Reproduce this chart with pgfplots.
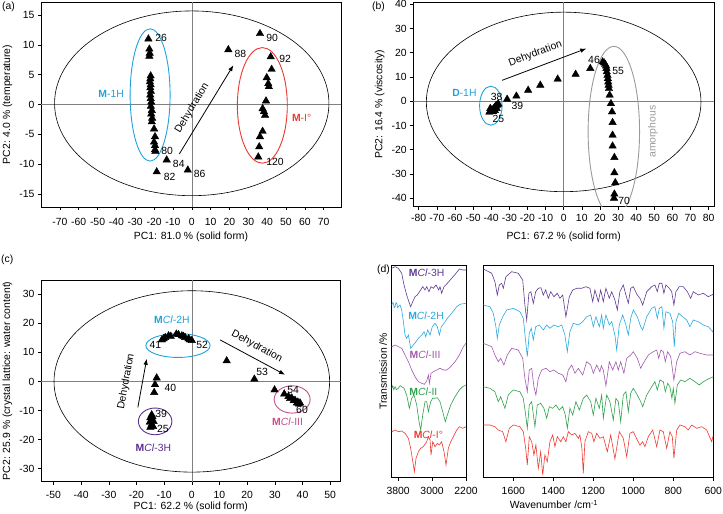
\documentclass[border=0pt]{standalone}
\usepackage{fontspec}
\setmainfont{Liberation Sans}
\usepackage{pgfplots}
\pgfplotsset{compat=1.18}
\usetikzlibrary{arrows.meta}
\definecolor{cblue}{HTML}{1FA2DC}
\definecolor{cred}{HTML}{E8392F}
\definecolor{cgray}{HTML}{9A9A9A}
\definecolor{cpur}{HTML}{5B2D8E}
\definecolor{cpink}{HTML}{C4508A}
\definecolor{sp3h}{HTML}{5E3A92}
\definecolor{sp2h}{HTML}{27AAE1}
\definecolor{spiii}{HTML}{A05AAE}
\definecolor{spii}{HTML}{2DA04A}
\definecolor{spi}{HTML}{EE3B32}
\newcommand\fs{\fontsize{10.4}{12.5}\selectfont}
\pgfplotsset{
  base/.style={scale only axis, anchor=south west, axis line style={line width=0.6pt},
    tick align=outside, xtick pos=left, ytick pos=left, major tick length=3pt,
    tick style={line width=0.5pt, black},
    /pgf/number format/assume math mode=true, /pgf/number format/1000 sep={},
    every tick label/.append style={font=\fs}, label style={font=\fs}},
  tri/.style={only marks, mark=triangle*, mark size=4.3pt, black},
  spec/.style={line width=0.6pt, no marks},
}
\tikzset{arr/.style={-{Latex[length=6pt,width=4.5pt]}, line width=0.8pt}}
\begin{document}
\fs
\begin{tikzpicture}
\path[use as bounding box] (0pt,0pt) rectangle (723pt,514pt);
% ---------------- (a)
\begin{axis}[base, at={(41pt,307pt)}, width=300pt, height=205pt,
  xmin=-80, xmax=79.2, ymin=-17.2, ymax=17.2,
  xtick={-70,-60,...,70}, ytick={-15,-10,...,15},
  xticklabel style={yshift=-4.5pt}, xlabel style={yshift=0.5pt},
  xlabel={PC1: 81.0 \% (solid form)}, ylabel={PC2: 4.0 \% (temperature)}]
\draw[gray, line width=0.5pt] (axis cs:-80,0) -- (axis cs:80,0);
\draw[gray, line width=0.5pt] (axis cs:0,-17.2) -- (axis cs:0,17.2);
\draw[line width=0.6pt] (axis cs:0,0.2) ellipse [x radius=72.8, y radius=15.5];
\draw[cblue, line width=0.9pt] (axis cs:-22.1,1.6) ellipse [x radius=10.6, y radius=11.1];
\draw[cred, line width=0.9pt] (axis cs:37.45,-0.15) ellipse [x radius=13.25, y radius=9.7];
\addplot[tri] coordinates {(-23,11) (-22.5,9.3) (-22.3,8.6) (-22.5,8.1) (-21.8,4.8) (-22,4.3)
 (-22.2,3.8) (-21.8,3.3) (-22,2.8) (-21.7,2.2) (-22,1.6) (-21.8,1.0) (-21.5,0.4) (-21.7,-0.3)
 (-21.2,-1.0) (-21.5,-1.6) (-21,-2.3) (-21.2,-2.9) (-20,-4.1) (-19.5,-5.4) (-20,-6.3)
 (-19.5,-6.9) (-19.5,-7.6) (-19.3,-7.9) (-18.6,-11.3) (-13.3,-9.3) (-2.1,-11.0) (19.4,9.2)
 (36.2,11.9) (41.9,8.0) (42.4,5.9) (39.8,4.5) (40.6,3.5) (40.9,3.0) (39.4,0.6) (37.6,-0.7)
 (38.3,-1.2) (38.9,-1.8) (37.6,-4.5) (36.2,-5.4) (35.8,-7.1) (35.3,-8.8)};
\node[anchor=west, inner sep=1pt] at (axis cs:-20,11.1) {26};
\node[anchor=west, inner sep=1pt] at (axis cs:-16.8,-7.8) {80};
\node[anchor=west, inner sep=1pt] at (axis cs:-15.4,-12.1) {82};
\node[anchor=west, inner sep=1pt] at (axis cs:-10.6,-10.0) {84};
\node[anchor=west, inner sep=1pt] at (axis cs:0.5,-11.7) {86};
\node[anchor=west, inner sep=1pt] at (axis cs:22.1,8.5) {88};
\node[anchor=west, inner sep=1pt] at (axis cs:38.9,11.1) {90};
\node[anchor=west, inner sep=1pt] at (axis cs:45.9,7.7) {92};
\node[anchor=west, inner sep=1pt] at (axis cs:38.9,-9.6) {120};
\draw[arr] (axis cs:-6.6,-8.3) -- (axis cs:22.1,6.6);
\node[rotate=58.8] at (axis cs:0.2,-0.6) {Dehydration};
\node[text=cblue] at (axis cs:-42.8,1.8) {\textbf{M}-1H};
\node[text=cred] at (axis cs:58.3,-2.3) {\textbf{M}-I°};
\end{axis}
\node[anchor=west, inner sep=0pt] at (2pt,507pt) {(a)};
% ---------------- (b)
\begin{axis}[base, at={(413.3pt,307.3pt)}, width=300.7pt, height=204.7pt,
  xmin=-83, xmax=83, ymin=-43.5, ymax=40.9,
  xtick={-80,-70,...,80}, ytick={-40,-30,...,40},
  xticklabel style={yshift=-1pt}, xlabel style={yshift=-3pt},
  xlabel={PC1: 67.2 \% (solid form)}, ylabel={PC2: 16.4 \% (viscosity)}]
\draw[gray, line width=0.5pt] (axis cs:-83,0) -- (axis cs:83,0);
\draw[gray, line width=0.5pt] (axis cs:0,-43.5) -- (axis cs:0,41);
\draw[line width=0.6pt] (axis cs:0,-0.3) ellipse [x radius=75.8, y radius=37];
\draw[cblue, line width=0.9pt] (axis cs:-40.2,-1.85) ellipse [x radius=6.2, y radius=8.05];
\draw[cgray, line width=0.9pt] (axis cs:27.7,-12.5) ellipse [x radius=14.2, y radius=35.1];
\addplot[tri] coordinates {(-41,-4.5) (-40,-4) (-39.5,-3.5) (-39,-4.3) (-38.5,-3) (-38,-2.5)
 (-37.5,-2) (-37,-1.8) (-36.5,-1.5) (-36,-1.2) (-38,-3.8) (-40.5,-3) (-37,-3)
 (-31.2,0.8) (-26.1,2.1) (-19.6,4.5) (-12.9,6.6) (-3.3,9.1) (6.6,11.1) (14.7,13.5)
 (21.5,16.2) (22.3,15.8) (22.9,15.2) (23.4,14.5) (23.6,13.5) (23.8,12.1) (24.2,10.7)
 (24.4,9.3) (24.6,7.9) (24.8,6.6) (25.0,5.2) (25.4,2.5) (26.1,-1.0) (26.7,-4.4) (27.0,-8.8)
 (27.0,-14.0) (27.0,-18.5) (28.0,-23.2) (28.0,-29.5) (28.5,-33.6) (28.0,-38.3) (27.8,-40.0)};
\node[anchor=west, inner sep=1pt] at (axis cs:-40.8,1.8) {38};
\node[anchor=west, inner sep=1pt] at (axis cs:-29.4,-2.1) {39};
\node[anchor=west, inner sep=1pt] at (axis cs:-39.9,-7.5) {25};
\node[anchor=west, inner sep=1pt] at (axis cs:12.9,17.2) {46};
\node[anchor=west, inner sep=1pt] at (axis cs:26.2,12.5) {55};
\node[anchor=west, inner sep=1pt] at (axis cs:29.5,-41.2) {70};
\draw[arr] (axis cs:-34,8.6) -- (axis cs:12.5,21.7);
\node[rotate=20.6] at (axis cs:-15.6,19.4) {Dehydration};
\node[text=cblue] at (axis cs:-54.8,3.4) {\textbf{D}-1H};
\node[text=cgray, rotate=90] at (axis cs:49.3,-12.6) {amorphous};
\end{axis}
\node[anchor=west, inner sep=0pt] at (372pt,507pt) {(b)};
% ---------------- (c)
\begin{axis}[base, at={(41pt,32.3pt)}, width=299.7pt, height=201.7pt,
  xmin=-54.5, xmax=53.8, ymin=-34.5, ymax=34.9,
  xtick={-50,-40,...,50}, ytick={-30,-20,...,30},
  xticklabel style={yshift=-3pt}, xlabel style={yshift=4pt},
  xlabel={PC1: 62.2 \% (solid form)}, ylabel={PC2: 25.9 \% (crystal lattice: water content)}]
\draw[gray, line width=0.5pt] (axis cs:-55,0) -- (axis cs:54,0);
\draw[gray, line width=0.5pt] (axis cs:0,-34.5) -- (axis cs:0,35);
\draw[line width=0.6pt] (axis cs:0,0) ellipse [x radius=49.8, y radius=31.2];
\draw[cblue, line width=0.9pt] (axis cs:-5.0,12.35) ellipse [x radius=11.6, y radius=4.1];
\draw[cpur, line width=0.9pt] (axis cs:-13.25,-13.75) ellipse [x radius=6.05, y radius=4.6];
\draw[cpink, line width=0.9pt] (axis cs:36.25,-6.2) ellipse [x radius=6.5, y radius=4.7];
\addplot[tri] coordinates {(-14.5,-11.5) (-15,-12.5) (-14.5,-13.2) (-15.2,-14) (-14.5,-14.8)
 (-14,-15.5) (-15,-15.8) (-14.2,-12.2) (-13.8,-13.8)
 (-12.7,1.2) (-13.3,-1.1) (-13.6,-3.8)
 (-10.8,14.3) (-10.2,14.7) (-9.6,15.1) (-8.4,15.7) (-7.6,15.5) (-5.6,16.3) (-4.8,16.1)
 (-3.6,15.7) (-3.0,15.5) (-2.4,15.1) (-1.2,14.7) (-0.8,14.3) (0,14.1)
 (12.6,7.1) (22.6,0.8) (29.9,-2.9)
 (33.4,-4.3) (34.9,-5.2) (36.1,-5.7) (37.3,-6.5) (38.3,-7.1) (39.1,-7.4) (35.5,-5.9)
 (36.8,-6.6) (38.0,-7.4) (38.7,-7.8)};
\node[anchor=west, inner sep=1pt] at (axis cs:-13.6,-11.2) {39};
\node[anchor=west, inner sep=1pt] at (axis cs:-13,-16.4) {25};
\node[anchor=west, inner sep=1pt] at (axis cs:-10.3,-2.1) {40};
\node[anchor=west, inner sep=1pt] at (axis cs:-15.7,12.4) {41};
\node[anchor=west, inner sep=1pt] at (axis cs:1.2,12.4) {52};
\node[anchor=west, inner sep=1pt] at (axis cs:22.9,3.4) {53};
\node[anchor=west, inner sep=1pt] at (axis cs:34.1,-2.9) {54};
\node[anchor=west, inner sep=1pt] at (axis cs:37.3,-9.7) {60};
\draw[arr] (axis cs:10.2,14.3) -- (axis cs:33.7,2.3);
\node[rotate=-28.3] at (axis cs:23.5,12.0) {Dehydration};
\draw[arr] (axis cs:-19.5,-8.9) -- (axis cs:-16.3,7.8);
\node[rotate=79.5] at (axis cs:-23.7,0) {Dehydration};
\node[text=cblue] at (axis cs:-7.2,21.2) {\textbf{M}\textit{Cl}-2H};
\node[text=cpur] at (axis cs:-13.9,-22.7) {\textbf{M}\textit{Cl}-3H};
\node[text=cpink] at (axis cs:34.6,-13.8) {\textbf{M}\textit{Cl}-III};
\end{axis}
\node[anchor=west, inner sep=0pt] at (1pt,254pt) {(c)};
% ---------------- (d) left
\begin{axis}[base, at={(391.7pt,36.3pt)}, width=74.3pt, height=212.7pt,
  xmin=2200, xmax=3950, x dir=reverse, ymin=0, ymax=212.7,
  xtick={3800,3000,2200}, ytick=\empty, xticklabel style={yshift=-3pt},
  ylabel={Transmission /\%}, ylabel style={yshift=-2pt}]
\addplot[spec, sp3h] coordinates {(3950,209.4) (3871,211) (3793,209.4) (3714,204.4) (3660,192.7)
 (3597,182.7) (3534,174.4) (3503,171) (3455,176) (3400,181) (3346,182.7) (3283,186.7) (3220,191)
 (3165,187.7) (3126,191) (3071,186) (3024,191) (2969,189.4) (2906,192.7) (2843,187.7) (2812,191)
 (2773,184.4) (2718,191) (2639,194.4) (2537,199.4) (2435,204.4) (2356,208.7) (2278,207.7) (2200,207.7)};
\addplot[spec, sp2h] coordinates {(3950,172.7) (3930,175) (3911,174.4) (3890,170) (3871,171) (3850,175) (3832,174.4)
 (3810,170) (3793,171) (3754,172.7) (3714,167.7) (3675,156) (3636,142.7) (3597,139.4) (3557,142.7)
 (3503,129.4) (3440,132.7) (3377,136) (3322,139.4) (3243,142.7) (3188,146) (3149,141) (3102,147.7)
 (3047,142.7) (2993,151) (2930,154.4) (2875,151) (2828,142.7) (2780,151) (2718,154.4) (2639,159.4)
 (2537,164.4) (2419,171) (2341,173.4) (2200,174.4)};
\addplot[spec, spiii] coordinates {(3950,131) (3871,132.7) (3793,131) (3714,129.4) (3636,122.7)
 (3557,116) (3479,107.7) (3400,101) (3322,96) (3243,94.4) (3181,93.4) (3126,96.7) (3086,102.7)
 (3063,94.4) (3024,104.4) (2969,106) (2890,107.7) (2812,109.4) (2733,107.7) (2655,107.7)
 (2560,111) (2458,116) (2356,122.7) (2262,131) (2200,134.4)};
\addplot[spec, spii] coordinates {(3950,89.4) (3925,92) (3900,88) (3871,91) (3840,88) (3793,89.4) (3750,92) (3714,91)
 (3660,89.4) (3597,82.7) (3534,69.4) (3479,79.4) (3424,82.7) (3361,72.7) (3306,56) (3267,47.7)
 (3220,62.7) (3165,76) (3126,76) (3086,66) (3032,76) (2984,79.4) (2930,79.4) (2875,80) (2812,76)
 (2749,66) (2687,56) (2639,62.7) (2560,72.7) (2458,81) (2356,87.7) (2278,91) (2200,92.7)};
\addplot[spec, spi] coordinates {(3950,46) (3871,47.7) (3793,46) (3714,46.7) (3636,44.4)
 (3557,39.4) (3503,29.4) (3440,12.7) (3416,6) (3377,19.4) (3322,26) (3267,29.4) (3204,31)
 (3126,36) (3086,41) (3047,37.7) (3024,22.7) (2984,36) (2930,31) (2875,34.4) (2828,32.7)
 (2773,36) (2718,26) (2671,12.7) (2616,29.4) (2560,36) (2498,41) (2419,47.7) (2356,51)
 (2278,49.4) (2200,51)};
\node[text=sp3h] at (axis cs:3126,205.4) {\textbf{M}\textit{Cl}-3H};
\node[text=sp2h] at (axis cs:3141,162) {\textbf{M}\textit{Cl}-2H};
\node[text=spiii] at (axis cs:3165,122.7) {\textbf{M}\textit{Cl}-III};
\node[text=spii] at (axis cs:3204,86) {\textbf{M}\textit{Cl}-II};
\node[text=spi] at (axis cs:3086,42.7) {\textbf{M}\textit{Cl}-I°};
\end{axis}
\node[anchor=east, inner sep=0pt] at (390pt,244pt) {(d)};
% ---------------- (d) right
\begin{axis}[base, at={(483.3pt,36.3pt)}, width=230pt, height=212.7pt,
  xmin=600, xmax=1750, x dir=reverse, ymin=0, ymax=212.7,
  xtick={600,800,...,1600}, ytick=\empty, xticklabel style={yshift=-3pt}]
\addplot[spec, sp3h] coordinates {(1750,208.7) (1708,204.4) (1692,196) (1680,182.7) (1670,192.7)
 (1658,194.4) (1650,189.4) (1637,201) (1608,206) (1575,204.4) (1553,197.7) (1542,172.7)
 (1533,157.7) (1522,184.4) (1512,186) (1500,174.4) (1488,186) (1475,189.4) (1462,190)
 (1450,182.7) (1438,187.7) (1425,179.4) (1413,186) (1397,181) (1380,184.4) (1367,179.4)
 (1353,182.7) (1337,161) (1320,181) (1303,187.7) (1283,189.4) (1258,189.4) (1237,191)
 (1217,189.4) (1203,176) (1192,187.7) (1175,176) (1163,187.7) (1150,176) (1137,189.4)
 (1120,179.4) (1108,186) (1092,177.7) (1080,167.7) (1067,186) (1050,192.7) (1037,182.7)
 (1025,174.4) (1013,189.4) (1000,191) (980,182.7) (967,179.4) (953,172.7) (933,186) (908,191)
 (892,192.7) (880,186) (870,194.4) (857,194.4) (847,184.4) (837,192.7) (820,189.4) (808,186)
 (797,172.7) (787,186) (770,191) (750,191) (730,186) (713,179.4) (700,186) (675,182.7)
 (650,184.4) (625,181) (600,183.4)};
\addplot[spec, sp2h] coordinates {(1750,172.7) (1717,171) (1700,164.4) (1687,151) (1680,139.4)
 (1670,152.7) (1653,161) (1633,167.7) (1600,169.4) (1567,166) (1550,159.4) (1538,136) (1530,121)
 (1520,144.4) (1510,149.4) (1500,137.7) (1488,151) (1470,152.7) (1450,147.7) (1433,152.7)
 (1417,149.4) (1397,152.7) (1375,151) (1358,152.7) (1342,142.7) (1330,126) (1317,146) (1300,154.4)
 (1275,152.7) (1253,156) (1233,161) (1213,162.7) (1200,151) (1187,161) (1170,151) (1158,162.7)
 (1150,149.4) (1137,162.7) (1120,152.7) (1108,156) (1092,142.7) (1083,127.7) (1070,152.7)
 (1053,162.7) (1037,152.7) (1025,142.7) (1013,159.4) (1000,167.7) (980,161) (963,151) (953,147.7)
 (933,161) (908,169.4) (892,171) (880,159.4) (870,169.4) (857,171) (847,149.4) (837,166)
 (817,164.4) (803,156) (795,131) (787,156) (773,164.4) (753,161) (733,157.7) (717,151)
 (700,157.7) (675,156) (650,152.7) (625,151) (600,145.4)};
\addplot[spec, spiii] coordinates {(1750,134.4) (1708,131) (1692,122.7) (1675,116) (1663,119.4)
 (1647,112.7) (1630,122.7) (1608,129.4) (1575,127.7) (1553,119.4) (1542,99.4) (1530,86)
 (1520,107.7) (1508,109.4) (1497,91) (1487,82.7) (1475,99.4) (1458,107.7) (1437,109.4)
 (1417,106) (1397,107.7) (1375,104.4) (1353,102.7) (1337,96) (1325,107.7) (1308,112.7)
 (1292,104.4) (1275,109.4) (1253,102.7) (1233,116) (1213,112.7) (1200,104.4) (1183,112.7)
 (1167,106) (1160,112) (1150,107.7) (1137,92) (1120,116) (1103,107.7) (1087,116) (1075,107.7)
 (1063,116) (1047,104.4) (1033,119.4) (1013,122.7) (1000,126) (980,119.4) (963,109.4)
 (950,114.4) (925,122.7) (900,126) (883,127.7) (873,119.4) (862,127.7) (850,126) (840,116)
 (828,126) (813,121) (797,97.7) (783,116) (767,124.4) (742,126) (717,122.7) (692,126)
 (667,124.4) (633,122.7) (600,122.7)};
\addplot[spec, spii] coordinates {(1750,91) (1717,89.4) (1692,86) (1675,76) (1663,81) (1642,69.4)
 (1625,82.7) (1600,87.7) (1567,86) (1550,79.4) (1538,62.7) (1530,49.4) (1520,72.7) (1508,76)
 (1492,51) (1480,72.7) (1463,74.4) (1447,69.4) (1433,59.4) (1420,71) (1403,69.4) (1387,72.7)
 (1370,67.7) (1353,71) (1340,62.7) (1330,49.4) (1317,69.4) (1303,62.7) (1287,76) (1270,67.7)
 (1250,79.4) (1233,82.7) (1213,76) (1200,62.7) (1187,79.4) (1170,69.4) (1158,82.7) (1150,59.4)
 (1133,82.7) (1117,76) (1100,57.7) (1087,79.4) (1075,76) (1063,56) (1050,82.7) (1037,86)
 (1025,66) (1013,84.4) (1000,89.4) (980,82.7) (963,76) (953,71) (933,82.7) (908,91) (892,96)
 (880,87.7) (867,97.7) (850,96) (840,86) (828,94.4) (817,91) (807,79.4) (800,89.4) (792,74.4)
 (780,92.7) (763,97.7) (742,96) (717,99.4) (692,96) (670,92.7) (650,96) (625,98.7) (600,101)};
\addplot[spec, spi] coordinates {(1750,52.7) (1717,52.7) (1692,51) (1675,47.7) (1653,46) (1637,36)
 (1620,49.4) (1600,52.7) (1567,51) (1550,46) (1538,29.4) (1530,12.7) (1520,41) (1508,36)
 (1497,22.7) (1487,32.7) (1475,9.4) (1463,26) (1453,2.7) (1442,22.7) (1430,16) (1417,36)
 (1403,42.7) (1392,31) (1380,41) (1363,36) (1350,41) (1337,36) (1325,46) (1308,42.7)
 (1292,44.4) (1275,39.4) (1267,42.7) (1257,29.4) (1250,4.4) (1242,36) (1225,46) (1208,44.4)
 (1197,36) (1183,44.4) (1167,39.4) (1150,41) (1130,26) (1113,42.7) (1092,18.7) (1070,46)
 (1050,39.4) (1033,21) (1017,44.4) (1000,46) (980,37.7) (967,32.7) (953,36) (942,31) (925,41)
 (903,47.7) (883,31) (867,47.7) (850,46) (833,29.4) (817,46) (805,41) (797,19.4) (783,47.7)
 (767,52.7) (742,51) (725,47.7) (708,52.7) (683,49.4) (658,51) (633,47.7) (608,36) (600,42.7)};
\end{axis}
\node at (554pt,9.5pt) {Wavenumber /cm\textsuperscript{-1}};
\end{tikzpicture}
\end{document}
